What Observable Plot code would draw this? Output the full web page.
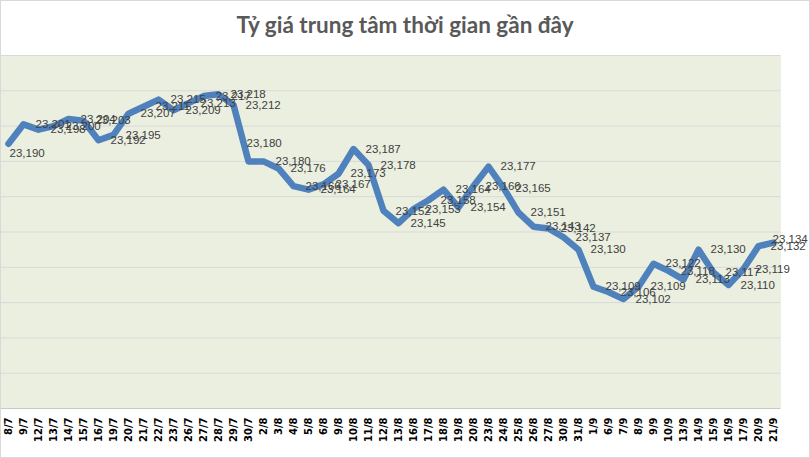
<!DOCTYPE html>
<html>
<head>
<meta charset="utf-8">
<script src="https://cdn.jsdelivr.net/npm/d3@7"></script>
<script src="https://cdn.jsdelivr.net/npm/@observablehq/plot@0.6"></script>
<style>
  body { margin: 0; background: #fff; }
  #chart { position: relative; width: 810px; height: 458px; background: #fff; overflow: hidden; }
  #title { position: absolute; top: 5px; left: 0; width: 810px; height: 40px; line-height: 40px; text-align: center;
           font-family: Lato, "Open Sans", sans-serif; font-weight: bold; font-size: 22.5px; color: #595959; }
  #plot { position: absolute; top: 45px; left: 0; }
  #border { position: absolute; top: 0; left: 0; width: 808px; height: 456px; border: 1px solid #D9D9D9; pointer-events: none; }
</style>
</head>
<body>
<div id="chart">
  <div id="title">Tỷ giá trung tâm thời gian gần đây</div>
  <div id="plot"></div>
  <div id="border"></div>
</div>
<script>
const dates = ["8/7","9/7","12/7","13/7","14/7","15/7","16/7","19/7","20/7","21/7","22/7","23/7","26/7","27/7","28/7","29/7","30/7",
  "2/8","3/8","4/8","5/8","6/8","9/8","10/8","11/8","12/8","13/8","16/8","17/8","18/8","19/8","20/8","23/8","24/8","25/8","26/8","27/8","30/8","31/8",
  "1/9","6/9","7/9","8/9","9/9","10/9","13/9","14/9","15/9","16/9","17/9","20/9","21/9"];
const rates = [23190,23201,23198,23200,23204,23203,23192,23195,23207,23211,23215,23209,23213,23217,23218,23212,23180,
  23180,23176,23166,23164,23167,23173,23187,23178,23152,23145,23153,23158,23164,23154,23166,23177,23165,23151,23143,23142,23137,23130,
  23109,23106,23102,23109,23122,23118,23113,23130,23117,23110,23119,23132,23134];
const yTicks = [23040,23060,23080,23100,23120,23140,23160,23180,23200,23220,23240];

const data = dates.map((d, i) => ({date: d, rate: rates[i], i}));
const fmt = d3.format(",");
const last = data.length - 1;
const labelStyle = {x: "date", y: "rate", text: d => fmt(d.rate), textAnchor: "start",
                    fill: "#404040", fontSize: 11.5, fontFamily: "Liberation Sans"};

const chart = Plot.plot({
  width: 810,
  height: 413,
  marginTop: 10,
  marginBottom: 50,
  marginLeft: 0,
  marginRight: 29.5,
  style: {background: "transparent", fontFamily: "Liberation Sans, sans-serif", overflow: "visible"},
  x: {type: "point", domain: dates, padding: 0.5, label: null},
  y: {domain: [yTicks[0], yTicks[yTicks.length - 1]], axis: null},
  marks: [
    Plot.frame({fill: "#EBEFDF", stroke: null}),
    Plot.ruleY(yTicks.slice(1), {stroke: "#D9D9D9", strokeWidth: 1}),
    Plot.ruleY(yTicks.slice(0, 1), {stroke: "#C8C8C8", strokeWidth: 1}),
    Plot.axisX({tickRotate: -90, tickSize: 0, tickPadding: 9, fontSize: 10, fontWeight: "bold",
                fontFamily: "DejaVu Sans", fill: "#000", label: null}),
    Plot.lineY(data, {x: "date", y: "rate", stroke: "#5a5626", strokeOpacity: 0.6, strokeWidth: 6.5,
                      dx: 2, dy: 3, strokeLinejoin: "round", ariaLabel: "shadow"}),
    Plot.lineY(data, {x: "date", y: "rate", stroke: "#4F81BD", strokeWidth: 6.5, strokeLinejoin: "round"}),
    // first label sits below-right of its point
    Plot.text(data.filter(d => d.i === 0), {...labelStyle, dx: 1, dy: 10}),
    // the 30/7 label is lifted above the drop
    Plot.text(data.filter(d => d.date === "30/7"), {...labelStyle, dx: -2, dy: -18}),
    Plot.text(data.filter(d => d.i > 0 && d.i < last && d.date !== "30/7"), {...labelStyle, dx: 12}),
    Plot.text(data.filter(d => d.i === last), {...labelStyle, dx: -1, dy: -3})
  ]
});

const svg = d3.select(chart);
const filt = svg.insert("defs", ":first-child").append("filter")
  .attr("id", "shadowBlur").attr("x", "-10%").attr("y", "-10%").attr("width", "120%").attr("height", "130%");
filt.append("feGaussianBlur").attr("stdDeviation", 1.6);
svg.select('g[aria-label="shadow"]').attr("filter", "url(#shadowBlur)");

document.getElementById("plot").appendChild(chart);
</script>
</body>
</html>
